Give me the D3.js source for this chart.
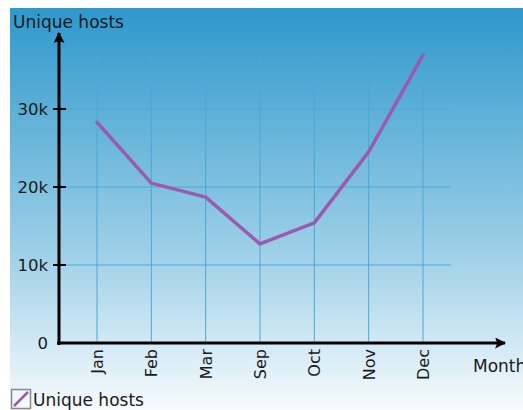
<!DOCTYPE html>
<html>
<head>
<meta charset="utf-8">
<script src="https://cdn.jsdelivr.net/npm/d3@7"></script>
<style>
  body { margin: 0; background: #fff; }
  svg { display: block; font-family: "DejaVu Sans", sans-serif; }
</style>
</head>
<body>
<svg width="523" height="410"></svg>
<script>
// chart data
const months = ["Jan", "Feb", "Mar", "Sep", "Oct", "Nov", "Dec"];
const hosts = [28300, 20500, 18700, 12700, 15400, 24500, 36900];
const yTicks = [0, 10000, 20000, 30000];
const seriesName = "Unique hosts";

const svg = d3.select("svg");

// background gradient
const defs = svg.append("defs");
const grad = defs.append("linearGradient")
  .attr("id", "bg").attr("x1", 0).attr("y1", 0).attr("x2", 0).attr("y2", 1);
grad.append("stop").attr("offset", "0%").attr("stop-color", "#2e98cc");
grad.append("stop").attr("offset", "60%").attr("stop-color", "#9ccfe7");
grad.append("stop").attr("offset", "100%").attr("stop-color", "#f7fbfd");

svg.append("rect")
  .attr("x", 10).attr("y", 8).attr("width", 513).attr("height", 402)
  .attr("fill", "url(#bg)");

// scales
const x = d3.scalePoint().domain(months).range([97, 423]);
const y = d3.scaleLinear().domain([0, 10000]).range([343, 265]);

// grid
svg.append("g")
  .selectAll("line")
  .data(months)
  .join("line")
  .attr("x1", d => x(d)).attr("x2", d => x(d))
  .attr("y1", 56).attr("y2", 343)
  .attr("stroke", "#4aa8d8").attr("stroke-width", 1);

svg.append("g")
  .selectAll("line")
  .data(yTicks.filter(d => d > 0))
  .join("line")
  .attr("x1", 59).attr("x2", 451)
  .attr("y1", d => y(d)).attr("y2", d => y(d))
  .attr("stroke", "#4aa8d8").attr("stroke-width", 1);

// arrow marker
defs.append("marker")
  .attr("id", "arrow")
  .attr("viewBox", "0 0 10 10")
  .attr("refX", 9).attr("refY", 5)
  .attr("markerWidth", 17).attr("markerHeight", 11)
  .attr("markerUnits", "userSpaceOnUse")
  .attr("orient", "auto")
  .append("path")
  .attr("d", "M0,0 L10,5 L0,10 L2,5 Z")
  .attr("fill", "#000");

// axes
svg.append("line")
  .attr("x1", 59).attr("y1", 345).attr("x2", 59).attr("y2", 33)
  .attr("stroke", "#000").attr("stroke-width", 3)
  .attr("marker-end", "url(#arrow)");

svg.append("line")
  .attr("x1", 57).attr("y1", 343).attr("x2", 505).attr("y2", 343)
  .attr("stroke", "#000").attr("stroke-width", 3)
  .attr("marker-end", "url(#arrow)");

// y ticks
const yt = svg.append("g")
  .selectAll("g")
  .data(yTicks)
  .join("g")
  .attr("transform", d => `translate(0,${y(d)})`);

yt.filter(d => d > 0).append("line")
  .attr("x1", 53).attr("x2", 66)
  .attr("stroke", "#000").attr("stroke-width", 2);

yt.append("text")
  .attr("x", 48).attr("dy", "0.36em")
  .attr("text-anchor", "end")
  .attr("font-size", 16.5)
  .attr("fill", "#1a1a1a")
  .text(d => d === 0 ? "0" : d3.format("d")(d / 1000) + "k");

// x labels
svg.append("g")
  .selectAll("text")
  .data(months)
  .join("text")
  .attr("transform", d => `translate(${x(d) + 6},349) rotate(-90)`)
  .attr("text-anchor", "end")
  .attr("font-size", 16)
  .attr("fill", "#1a1a1a")
  .text(d => d);

// axis titles
svg.append("text")
  .attr("x", 13).attr("y", 28)
  .attr("font-size", 17).attr("fill", "#1a1a1a")
  .text(seriesName);

svg.append("text")
  .attr("x", 473).attr("y", 372)
  .attr("font-size", 17).attr("fill", "#1a1a1a")
  .text("Month");

// line
const line = d3.line()
  .x((d, i) => x(months[i]))
  .y(d => y(d));

svg.append("path")
  .datum(hosts)
  .attr("d", line)
  .attr("fill", "none")
  .attr("stroke", "#9b59b0")
  .attr("stroke-width", 3.5)
  .attr("stroke-linejoin", "round")
  .attr("stroke-linecap", "round");

// legend
const lg = svg.append("g").attr("transform", "translate(11,389)");
lg.append("rect")
  .attr("x", 0.5).attr("y", 0.5).attr("width", 19).attr("height", 19)
  .attr("fill", "none").attr("stroke", "#888").attr("stroke-width", 1.5);
lg.append("line")
  .attr("x1", 3).attr("y1", 17).attr("x2", 17).attr("y2", 3)
  .attr("stroke", "#9b59b0").attr("stroke-width", 2.5);
lg.append("text")
  .attr("x", 22).attr("y", 17)
  .attr("font-size", 17).attr("fill", "#1a1a1a")
  .text(seriesName);
</script>
</body>
</html>
